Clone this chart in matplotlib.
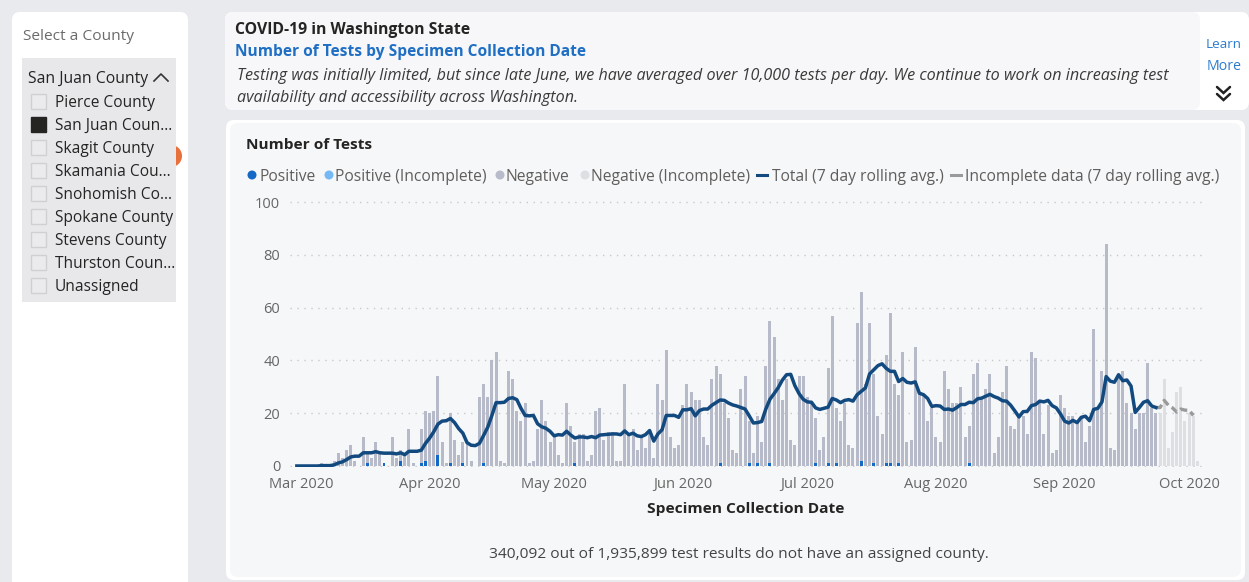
import numpy as np
import pandas as pd
import matplotlib
matplotlib.use("Agg")
import matplotlib.pyplot as plt
import matplotlib.dates as mdates
from matplotlib.patches import FancyBboxPatch, Rectangle, Circle

plt.rcParams['font.family'] = ['Open Sans', 'DejaVu Sans']

# daily test counts for San Juan County, first day = 2020-02-29
start_date = "2020-02-29"
total_tests = [
    0, 0, 0, 0, 0, 0, 1, 0, 0, 2, 5, 3, 6, 8, 2, 0, 11, 5, 3, 9, 5, 1, 0, 11, 3, 6, 4, 14, 1, 0,
    14, 21, 20, 21, 34, 9, 1, 20, 10, 4, 9, 9, 2, 0, 26, 31, 26, 40, 43, 2, 1, 36, 33, 21, 17, 24,
    1, 2, 14, 25, 17, 9, 12, 4, 1, 24, 15, 9, 12, 12, 2, 4, 21, 22, 10, 13, 13, 2, 2, 31, 12, 14,
    6, 11, 7, 13, 3, 31, 25, 44, 11, 7, 8, 23, 31, 28, 25, 25, 11, 8, 33, 38, 35, 24, 18, 6, 5,
    29, 34, 17, 5, 19, 9, 38, 55, 49, 33, 25, 33, 10, 8, 34, 34, 26, 24, 18, 6, 11, 37, 57, 22,
    17, 24, 8, 7, 54, 66, 31, 54, 35, 19, 12, 42, 58, 31, 27, 43, 9, 10, 45, 28, 27, 17, 22, 11,
    9, 36, 29, 24, 24, 30, 11, 15, 35, 39, 26, 29, 35, 5, 11, 28, 38, 15, 14, 19, 19, 12, 43, 41,
    24, 12, 23, 5, 6, 27, 22, 19, 19, 17, 19, 9, 15, 52, 22, 36, 84, 7, 6, 35, 36, 24, 20, 14, 20,
    20, 39, 22, 20, 20, 33, 7, 13, 28, 30, 17, 20, 19, 2,
]
positive_dates = [
    "2020-03-17", "2020-03-21", "2020-03-25", "2020-03-30", "2020-03-31", "2020-04-03",
    "2020-04-06", "2020-04-09", "2020-04-14", "2020-05-06", "2020-06-10", "2020-06-17",
    "2020-06-19", "2020-06-22", "2020-07-03", "2020-07-06", "2020-07-08", "2020-07-14",
    "2020-07-17", "2020-07-20", "2020-07-21", "2020-07-23", "2020-08-09",
]
positive_counts = [1, 1, 2, 1, 2, 4, 1, 1, 1, 1, 1, 1, 1, 1, 1, 1, 1, 2, 1, 1, 1, 1, 1]
incomplete_from = "2020-09-24"

counties = ["Pierce County", "San Juan Coun\u2026", "Skagit County", "Skamania Cou\u2026",
            "Snohomish Co\u2026", "Spokane County", "Stevens County", "Thurston Coun\u2026",
            "Unassigned"]
selected_county = "San Juan Coun\u2026"
month_ticks = ["Mar 2020", "Apr 2020", "May 2020", "Jun 2020", "Jul 2020", "Aug 2020",
               "Sep 2020", "Oct 2020"]

dates = pd.date_range(start_date, periods=len(total_tests), freq="D")
df = pd.DataFrame({"total": total_tests}, index=dates)
df["positive"] = 0
df.loc[pd.to_datetime(positive_dates), "positive"] = positive_counts
df["negative"] = df["total"] - df["positive"]
df["avg"] = df["total"].rolling(7, min_periods=1).mean()
cut = pd.Timestamp(incomplete_from)
done = df[df.index < cut]
inc = df[df.index >= cut]

W, H = 1249, 582
fig = plt.figure(figsize=(W / 100, H / 100), dpi=100)
fig.patch.set_facecolor("#e9eaee")
bg = fig.add_axes([0, 0, 1, 1])
bg.set_xlim(0, W)
bg.set_ylim(H, 0)
bg.axis("off")
renderer = fig.canvas.get_renderer()


def card(x0, y0, x1, y1, color, r=8, z=1):
    bg.add_patch(FancyBboxPatch((x0, y0), x1 - x0, y1 - y0,
                                boxstyle="round,pad=0,rounding_size=%d" % r,
                                fc=color, ec="none", zorder=z))


def put(x, y, s, w=None, size=11, **kw):
    kw.setdefault("va", "center")
    t = bg.text(x, y + 2, s, fontsize=size, **kw)
    if w:
        bb = t.get_window_extent(renderer)
        t.set_fontsize(size * w / bb.width)
    return t


# panels
card(12, 12, 188, 600, "white")
card(225, 12, 1249, 110, "white")
card(225, 12, 1200, 110, "#f7f7f9")
card(226, 120, 1245, 580, "white")
card(230, 123, 1241, 577, "#f6f7f9")

# slicer
put(23, 35, "Select a County", w=111, color="#6b6b6b")
bg.add_patch(Circle((171, 156), 11, fc="#e8703a", ec="none", zorder=1))
bg.add_patch(Rectangle((22, 58), 154, 244, fc="#e8e8eb", ec="none", zorder=2))
put(28, 77, "San Juan County", w=120, color="#252423", zorder=3)
bg.plot([154, 161, 168], [81, 74, 81], color="#333333", lw=1.2, zorder=3)
t0 = put(55, 216, "Spokane County", w=118, color="#252423", zorder=3)
fs_items = t0.get_fontsize()
t0.remove()
for i, name in enumerate(counties):
    yy = 101 + 23 * i
    filled = name == selected_county
    bg.add_patch(Rectangle((31, yy - 7.5), 15, 15, fc="#252423" if filled else "#ebebee",
                           ec="#252423" if filled else "#d0d0d4", lw=1, zorder=3))
    put(55, yy, name, size=fs_items, color="#252423", zorder=3)

# header
put(235, 28, "COVID-19 in Washington State", w=235, weight="bold", color="#252423")
put(235, 50, "Number of Tests by Specimen Collection Date", w=350, weight="bold", color="#1f6fc4")
t1 = put(237, 74, "Testing was initially limited, but since late June, we have averaged over 10,000 "
         "tests per day. We continue to work on increasing test", w=930, style="italic",
         color="#3a3a3a")
put(237, 96, "availability and accessibility across Washington.", size=t1.get_fontsize(),
    style="italic", color="#3a3a3a")
put(1224, 43, "Learn", w=36, ha="center", color="#2b7cd0")
put(1224, 64, "More", w=35, ha="center", color="#2b7cd0")
for yy in (87, 94):
    bg.plot([1217, 1223.5, 1230], [yy, yy + 6, yy], color="#222222", lw=1.8,
            solid_capstyle="round", solid_joinstyle="miter")

# chart card texts
put(246, 143, "Number of Tests", w=126, weight="bold", color="#252423")
lg = put(965, 175, "Incomplete data (7 day rolling avg.)", w=255, color="#605e5c")
fs_leg = lg.get_fontsize()
legend_items = [
    (252, "dot", "#1469c7", 260, "Positive"),
    (329, "dot", "#75b9f4", 335, "Positive (Incomplete)"),
    (500, "dot", "#b8bbca", 506, "Negative"),
    (585, "dot", "#dedfe3", 591, "Negative (Incomplete)"),
    (762, "dash", "#124a80", 772, "Total (7 day rolling avg.)"),
    (956, "dash", "#9a9a9a", None, None),
]
for mx, kind, col, tx, label in legend_items:
    if kind == "dot":
        bg.add_patch(Circle((mx, 175), 4.5, fc=col, ec="none"))
    else:
        bg.plot([mx - 5, mx + 5], [175, 175], color=col, lw=2.2)
    if label:
        put(tx, 175, label, size=fs_leg, color="#605e5c")
put(746, 507, "Specimen Collection Date", w=196, ha="center", weight="bold", color="#252423")
put(739, 553, "340,092 out of 1,935,899 test results do not have an assigned county.", w=498,
    ha="center", color="#444444")

# chart
d0 = mdates.date2num(pd.Timestamp("2020-03-01"))
ax = fig.add_axes([290 / W, 1 - 467.3 / H, (1202 - 290) / W, (467.3 - 200.7) / H])
ax.set_facecolor("none")
bw = 0.72
ax.bar(done.index, done["positive"], width=bw, color="#1469c7", zorder=2)
ax.bar(done.index, done["negative"], bottom=done["positive"], width=bw, color="#b7bac9", zorder=2)
ax.bar(inc.index, inc["positive"], width=bw, color="#75b9f4", zorder=2)
ax.bar(inc.index, inc["negative"], bottom=inc["positive"], width=bw, color="#dedfe3", zorder=2)
last = done.index[-1]
dash_part = df.loc[last:].iloc[:-1]
ax.plot(dash_part.index, dash_part["avg"], color="#9a9a9a", lw=2.4, ls=(0, (2.2, 1.2)), zorder=3)
ax.plot(done.index, done["avg"], color="#124a80", lw=2.5, zorder=4, solid_joinstyle="round")

ax.set_xlim(d0 - 2.65, d0 + 217.1)
ax.set_ylim(-0.5, 100.5)
ax.set_yticks([0, 20, 40, 60, 80, 100])
ax.xaxis.set_major_locator(mdates.MonthLocator())
ax.set_xticks(ax.get_xticks())
ax.set_xticklabels(month_ticks)
ax.tick_params(length=0, labelsize=10.5, labelcolor="#666666")
ax.tick_params(axis="x", pad=7)
ax.tick_params(axis="y", pad=7)
ax.grid(axis="y", color="#c9c9cc", lw=1, ls=(0, (1, 4)), zorder=0)
for s in ax.spines.values():
    s.set_visible(False)

fig.savefig("out.png", dpi=100, facecolor=fig.get_facecolor())
